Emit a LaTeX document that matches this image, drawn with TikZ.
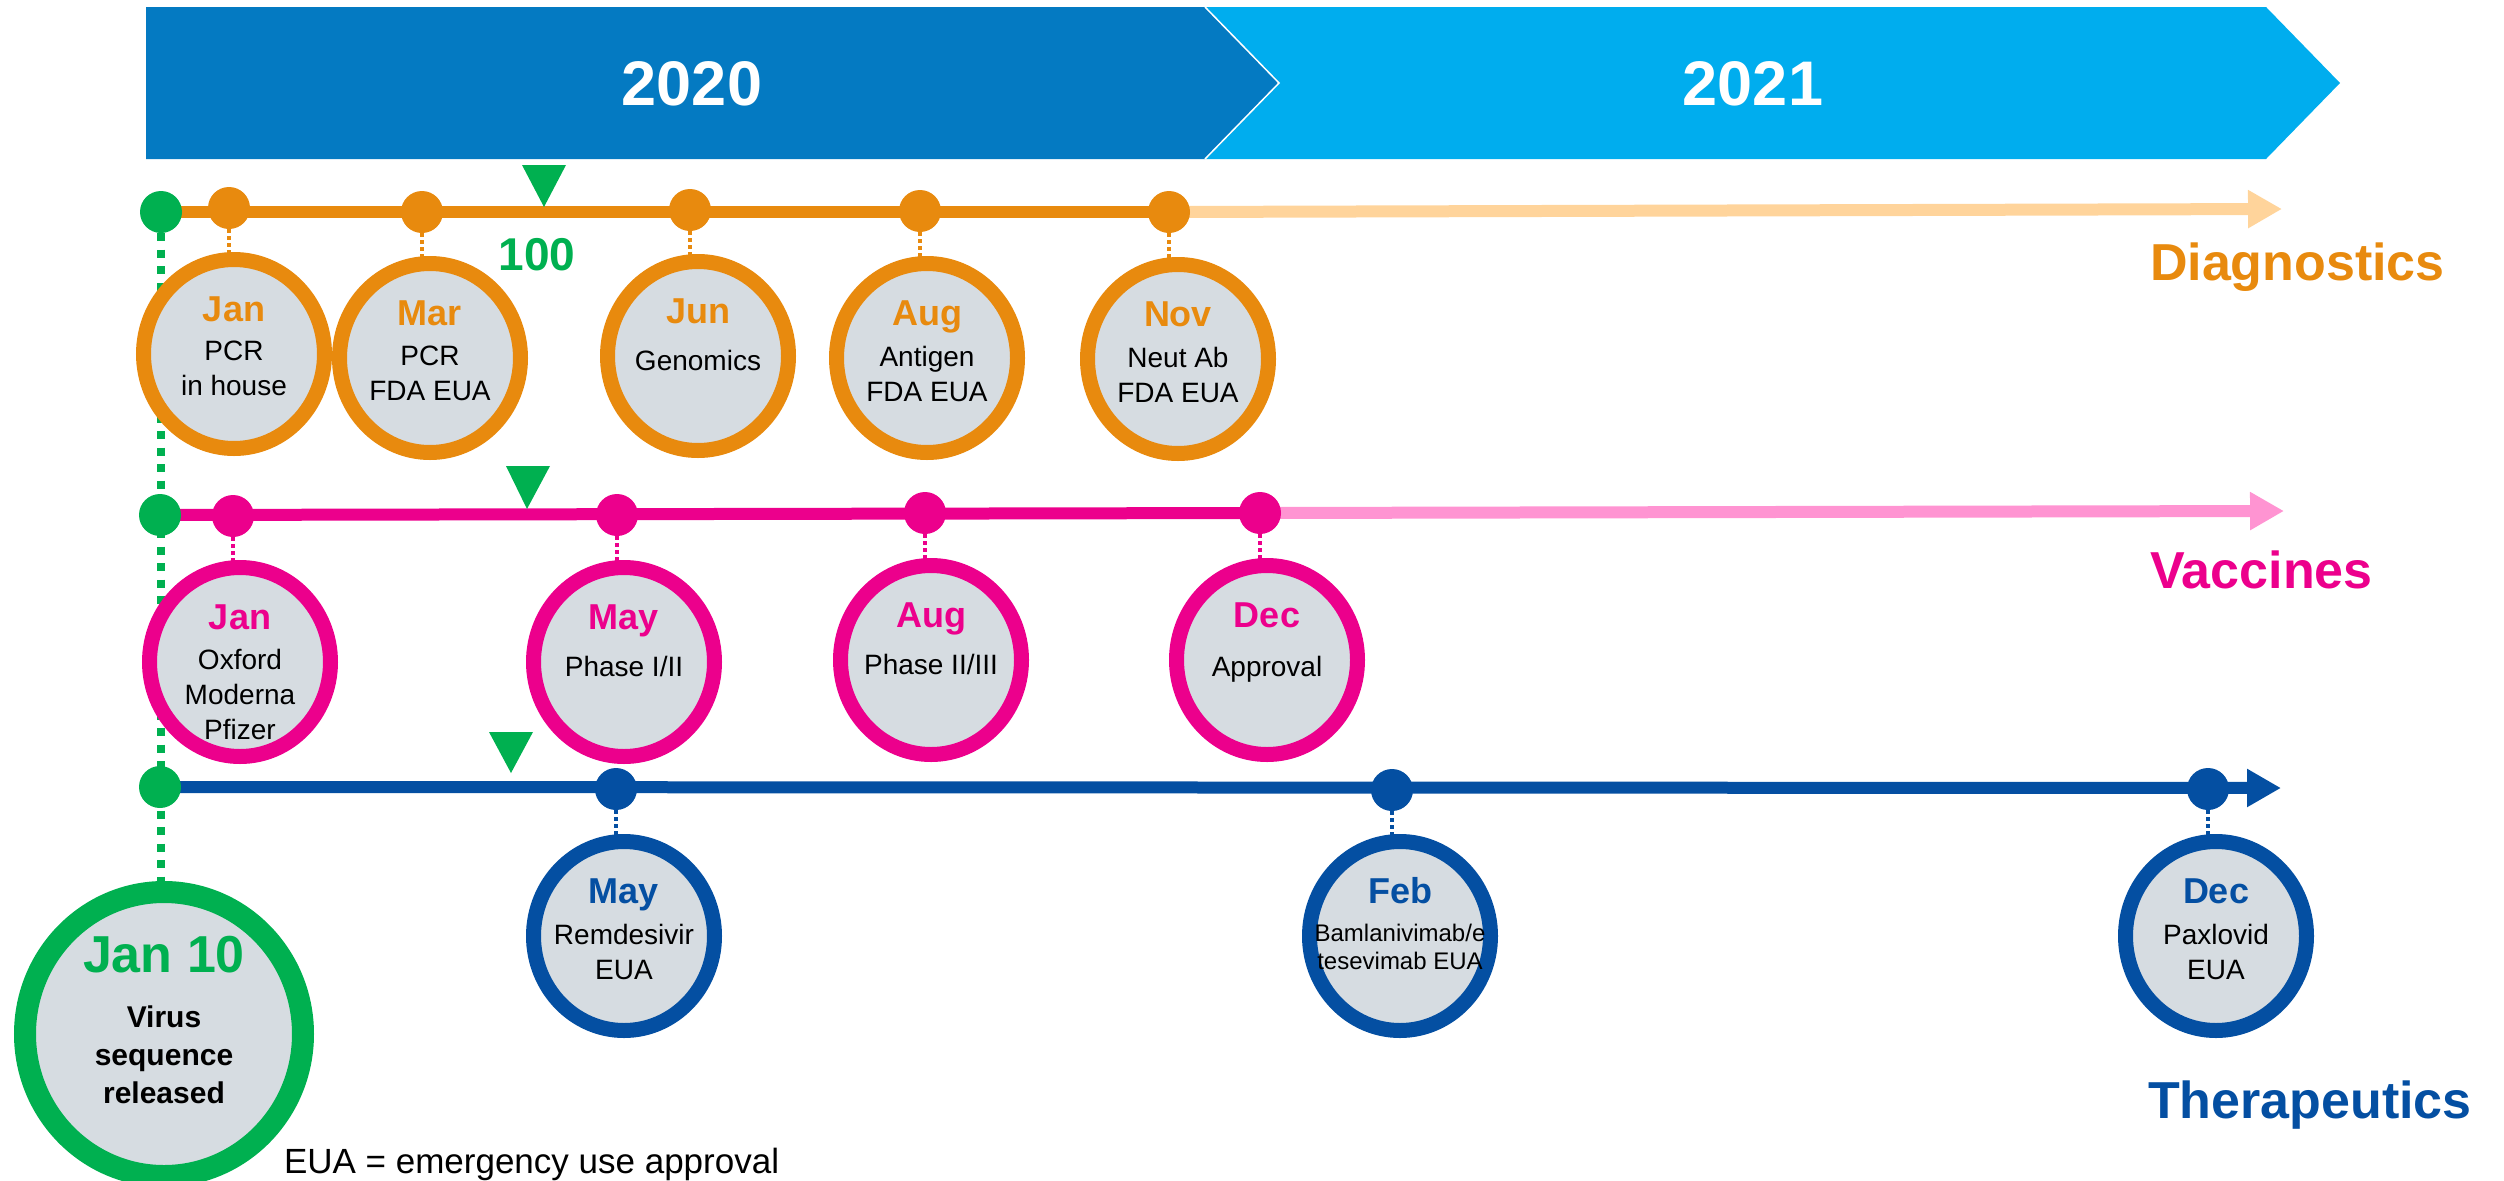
\documentclass[tikz,border=0pt]{standalone}
\usepackage{fontspec}
\setmainfont{Liberation Sans}
\usetikzlibrary{arrows.meta,calc,backgrounds,shapes.geometric}

\definecolor{yrdark}{HTML}{047AC2}
\definecolor{yrlight}{HTML}{00ADEE}
\definecolor{diag}{HTML}{E88A0E}
\definecolor{diaglight}{HTML}{FFD49B}
\definecolor{vacc}{HTML}{EC008C}
\definecolor{vacclight}{HTML}{FF94D2}
\definecolor{ther}{HTML}{044FA2}
\definecolor{seq}{HTML}{00B050}
\definecolor{bubblegray}{HTML}{D6DCE1}

\newcommand{\fsz}[2]{\fontsize{#1pt}{#2pt}\selectfont}

\tikzset{
  every node/.style={inner sep=0pt, outer sep=0pt},
  bubble/.style={ellipse, fill=bubblegray, line width=15pt,
                 minimum width=181pt, minimum height=189pt},
  dot/.style={circle, minimum size=42pt},
  month/.style={anchor=base, font=\bfseries\fsz{36}{40}},
  body/.style={anchor=north, align=center, font=\fsz{28}{35}},
  track/.style={line width=12pt},
  tiplight/.style={-{Triangle[length=34pt,width=36pt]}},
  stem/.style={line width=4pt, dash pattern=on 4pt off 3pt},
  seqline/.style={seq, line width=8pt, dash pattern=on 8pt off 8.5pt},
  category/.style={anchor=base west, font=\bfseries\fsz{52}{60}},
  marker/.style={seq},
}

% event bubble: name, x, y, colour, month, body, body top offset, body style
\newcommand{\evbubble}[8]{%
  \node[bubble, draw=#4] (#1) at (#2,#3) {};
  \node[month, text=#4] (#1-m) at ($(#1)+(0,-33)$) {#5};
  \node[body, #8] (#1-t) at ($(#1)+(0,#7)$) {#6};
}

\begin{document}
\begin{tikzpicture}[x=1pt, y=-1pt]
\useasboundingbox (0,0) rectangle (2504,1181);

% year banner
\fill[yrlight] (1205,7) -- (2266,7) -- (2340,83) -- (2266,159) -- (1205,159) -- cycle;
\fill[yrdark] (146,7) -- (1205,7) -- (1279,83) -- (1205,159) -- (146,159) -- cycle;
\draw[white, line width=1.5pt] (1205,7) -- (1279,83) -- (1205,159);
\node[anchor=base, text=white, font=\bfseries\fsz{63}{70}] (y2020) at (692,105) {2020};
\node[anchor=base, text=white, font=\bfseries\fsz{63}{70}] (y2021) at (1753,105) {2021};

% start-of-track dots (sequence release)
\node[dot, fill=seq] (g1) at (161,212) {};
\node[dot, fill=seq] (g2) at (160,515) {};
\node[dot, fill=seq] (g3) at (160,787) {};

% milestone dots
\node[dot, fill=diag] (d1dot) at (229,208) {};
\node[dot, fill=diag] (d2dot) at (422,212) {};
\node[dot, fill=diag] (d3dot) at (690,210) {};
\node[dot, fill=diag] (d4dot) at (920,211) {};
\node[dot, fill=diag] (d5dot) at (1169,212) {};

\node[dot, fill=vacc] (v1dot) at (233,516) {};
\node[dot, fill=vacc] (v2dot) at (617,515) {};
\node[dot, fill=vacc] (v3dot) at (925,513) {};
\node[dot, fill=vacc] (v4dot) at (1260,513) {};

\node[dot, fill=ther] (t1dot) at (616,789) {};
\node[dot, fill=ther] (t2dot) at (1392,790) {};
\node[dot, fill=ther] (t3dot) at (2208,789) {};

% arrow ends
\coordinate (dtip) at (2282,209);
\coordinate (vtip) at (2284,511);
\coordinate (ttip) at (2281,788);

% 100-day markers
\fill[marker] (522,165) -- (566,165) -- (544,207) -- cycle;
\fill[marker] (506,466) -- (550,466) -- (527,509) -- cycle;
\fill[marker] (489,732) -- (533,732) -- (511,773) -- cycle;
\node[anchor=base, text=seq, font=\bfseries\fsz{46}{50}] (hundred) at (537,270) {100};

% diagnostics
\evbubble{d1}{234}{354}{diag}{Jan}{PCR\\in house}{-13}{}
\evbubble{d2}{430}{358}{diag}{Mar}{PCR\\FDA EUA}{-12}{}
\evbubble{d3}{698}{356}{diag}{Jun}{Genomics}{-6}{}
\evbubble{d4}{927}{358}{diag}{Aug}{Antigen\\FDA EUA}{-12}{}
\evbubble{d5}{1178}{359}{diag}{Nov}{Neut Ab\\FDA EUA}{-12}{}

% vaccines
\evbubble{v1}{240}{662}{vacc}{Jan}{Oxford\\Moderna\\Pfizer}{-13}{}
\evbubble{v2}{624}{662}{vacc}{May}{Phase I/II}{-6}{}
\evbubble{v3}{931}{660}{vacc}{Aug}{Phase II/III}{-6}{}
\evbubble{v4}{1267}{660}{vacc}{Dec}{Approval}{-4}{}

% therapeutics
\evbubble{t1}{624}{936}{ther}{May}{Remdesivir\\EUA}{-12}{}
\evbubble{t2}{1400}{936}{ther}{Feb}{Bamlanivimab/e\\tesevimab EUA}{-12}{font=\fsz{24}{28}}
\evbubble{t3}{2216}{936}{ther}{Dec}{Paxlovid\\EUA}{-12}{}

% sequence release
\node[ellipse, fill=bubblegray, draw=seq, line width=22pt,
      minimum width=278pt, minimum height=284pt] (jan10) at (164,1034) {};
\node[anchor=base, text=seq, font=\bfseries\fsz{52}{60}] (jan10-m) at (164,972) {Jan 10};
\node[anchor=north, align=center, font=\bfseries\fsz{30}{38}] (jan10-t) at (164,1006) {Virus\\sequence\\released};

% track names
\node[category, text=diag] (catdiag) at (2150,280) {Diagnostics};
\node[category, text=vacc] (catvacc) at (2150,588) {Vaccines};
\node[category, text=ther] (catther) at (2148,1118) {Therapeutics};

% footnote
\node[anchor=base west, font=\fsz{35}{40}] (note) at (284,1173) {EUA = emergency use approval};

% tracks and stems, under the nodes
\begin{pgfonlayer}{background}
  \draw[seqline] (g1.south) -- (g1 |- jan10.north);
  \draw[track, diaglight, tiplight] (d5dot.center) -- (dtip);
  \draw[track, diag] (g1.center) -- (d5dot.center);
  \draw[track, vacclight, tiplight] (v4dot.center) -- (vtip);
  \draw[track, vacc] (g2.center) -- (v4dot.center);
  \draw[track, ther, tiplight] (g3.center) -- (ttip);
  \foreach \n in {d1,d2,d3,d4,d5}
    \draw[stem, diag] (\n dot.south) -- (\n dot |- \n.north);
  \foreach \n in {v1,v2,v3,v4}
    \draw[stem, vacc] (\n dot.south) -- (\n dot |- \n.north);
  \foreach \n in {t1,t2,t3}
    \draw[stem, ther] (\n dot.south) -- (\n dot |- \n.north);
\end{pgfonlayer}
\end{tikzpicture}
\end{document}
